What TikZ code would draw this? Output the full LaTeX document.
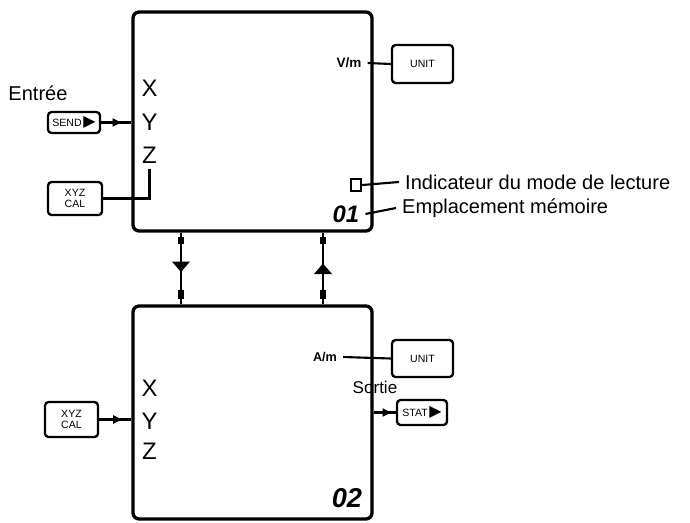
\documentclass[tikz,border=0pt]{standalone}
\usepackage{fontspec}
\setmainfont{Liberation Sans}
\newfontfamily\symfont{DejaVu Sans}
\usetikzlibrary{arrows.meta}
\usetikzlibrary{decorations.markings}
\tikzset{
    panel/.style={
        draw,
        line width=1.9pt,
        rounded corners=0.12cm},
    keybox/.style={
        draw,
        line width=1.3pt,
        rounded corners=2pt,
        inner sep=1pt,
        align=center,
        font=\fontsize{6}{6.5}\selectfont},
    axis/.style={font=\fontsize{13.6}{15}\selectfont},
    note/.style={font=\fontsize{11.4}{13}\selectfont},
    wire/.style={line width=1.2pt},
    tipat/.style={
        decoration={markings,
            mark=at position #1 with {\arrow{Triangle[length=5pt,width=4.5pt]}}},
        postaction={decorate}},
    downlink/.style={wire,
        decoration={markings,
            mark=at position 0.16 with {\arrow{Rectangle[length=4pt,width=3pt]}},
            mark=at position 0.55 with {\arrow{Triangle[length=6pt,width=10pt]}},
            mark=at position 0.92 with {\arrow{Rectangle[length=5pt,width=3pt]}}},
        postaction={decorate}},
    uplink/.style={wire,
        decoration={markings,
            mark=at position 0.16 with {\arrow{Rectangle[length=4pt,width=3pt]}},
            mark=at position 0.43 with {\arrowreversed{Triangle[length=6pt,width=10pt]}},
            mark=at position 0.92 with {\arrow{Rectangle[length=5pt,width=3pt]}}},
        postaction={decorate}}}

\begin{document}
\begin{tikzpicture}[x=0.02cm,y=-0.02cm]
        \useasboundingbox (0,0) rectangle (690,522);

        % panels
        \node[panel,minimum width=4.78cm,minimum height=4.38cm] (top) at (252.5,121.5) {};
        \node[panel,minimum width=4.78cm,minimum height=4.26cm] (bot) at (252.5,412.5) {};

        \node[axis] (x1) at (149.5,88) {X};
        \node[axis] (y1) at (149.5,122) {Y};
        \node[axis] (z1) at (149.5,155) {Z};
        \node[axis] (x2) at (149.5,388) {X};
        \node[axis] (y2) at (149.5,421) {Y};
        \node[axis] (z2) at (149.5,451) {Z};

        \node[font=\fontsize{13.6}{15}\bfseries\itshape] (mem1) at (346,214) {01};
        \node[font=\fontsize{15.5}{17}\bfseries\itshape] (mem2) at (347,498) {02};
        \node[draw,line width=1.4pt,fill=white,minimum width=0.2cm,minimum height=0.24cm,inner sep=0pt] (ind) at (356,185) {};

        \node[font=\fontsize{7.7}{8}\bfseries] (vm) at (349,63) {V/m};
        \node[font=\fontsize{7.2}{8}\bfseries] (am) at (325,357) {A/m};

        % keys
        \node[keybox,minimum width=1.04cm,minimum height=0.42cm] (send) at (74,122.5) {SEND\,{\symfont\fontsize{9}{9}\selectfont ▶}};
        \node[keybox,minimum width=1.08cm,minimum height=0.66cm] (cal1) at (75,198.5) {XYZ\\CAL};
        \node[keybox,minimum width=1.22cm,minimum height=0.76cm] (unit1) at (422.5,64) {UNIT};
        \node[keybox,minimum width=1.22cm,minimum height=0.74cm] (unit2) at (422.5,358.5) {UNIT};
        \node[keybox,minimum width=1.06cm,minimum height=0.7cm] (cal2) at (71.5,419.5) {XYZ\\CAL};
        \node[keybox,minimum width=1cm,minimum height=0.5cm] (stat) at (422,412.5) {STAT\,{\symfont\fontsize{9}{9}\selectfont ▶}};

        % labels
        \node[note] (entree) at (38,93) {Entrée};
        \node[font=\fontsize{9.7}{11}\selectfont] (sortie) at (375,387) {Sortie};
        \node[note,anchor=west] (indtext) at (399,182) {Indicateur du mode de lecture};
        \node[note,anchor=west] (memtext) at (396,208) {Emplacement mémoire};

        % connectors
        \draw[wire,tipat=0.67] (send.east) -- (send.east -| top.west);
        \draw[wire] (cal1.east) -| (z1.south);
        \draw[wire,tipat=0.71] (cal2.east) -- (cal2.east -| bot.west);
        \draw[wire] (vm.east) -- (unit1.west);
        \draw[wire] (am.east) -- (unit2.west);
        \draw[wire,tipat=0.8] (stat.west -| bot.east) -- (stat.west);
        \draw[wire] (ind.east) -- (indtext.west);
        \draw[wire] (mem1.east) -- (memtext.west);

        \coordinate (dl) at (181,270);
        \coordinate (ul) at (323,270);
        \draw[downlink] (top.south -| dl) -- (bot.north -| dl);
        \draw[uplink] (top.south -| ul) -- (bot.north -| ul);
\end{tikzpicture}
\end{document}
